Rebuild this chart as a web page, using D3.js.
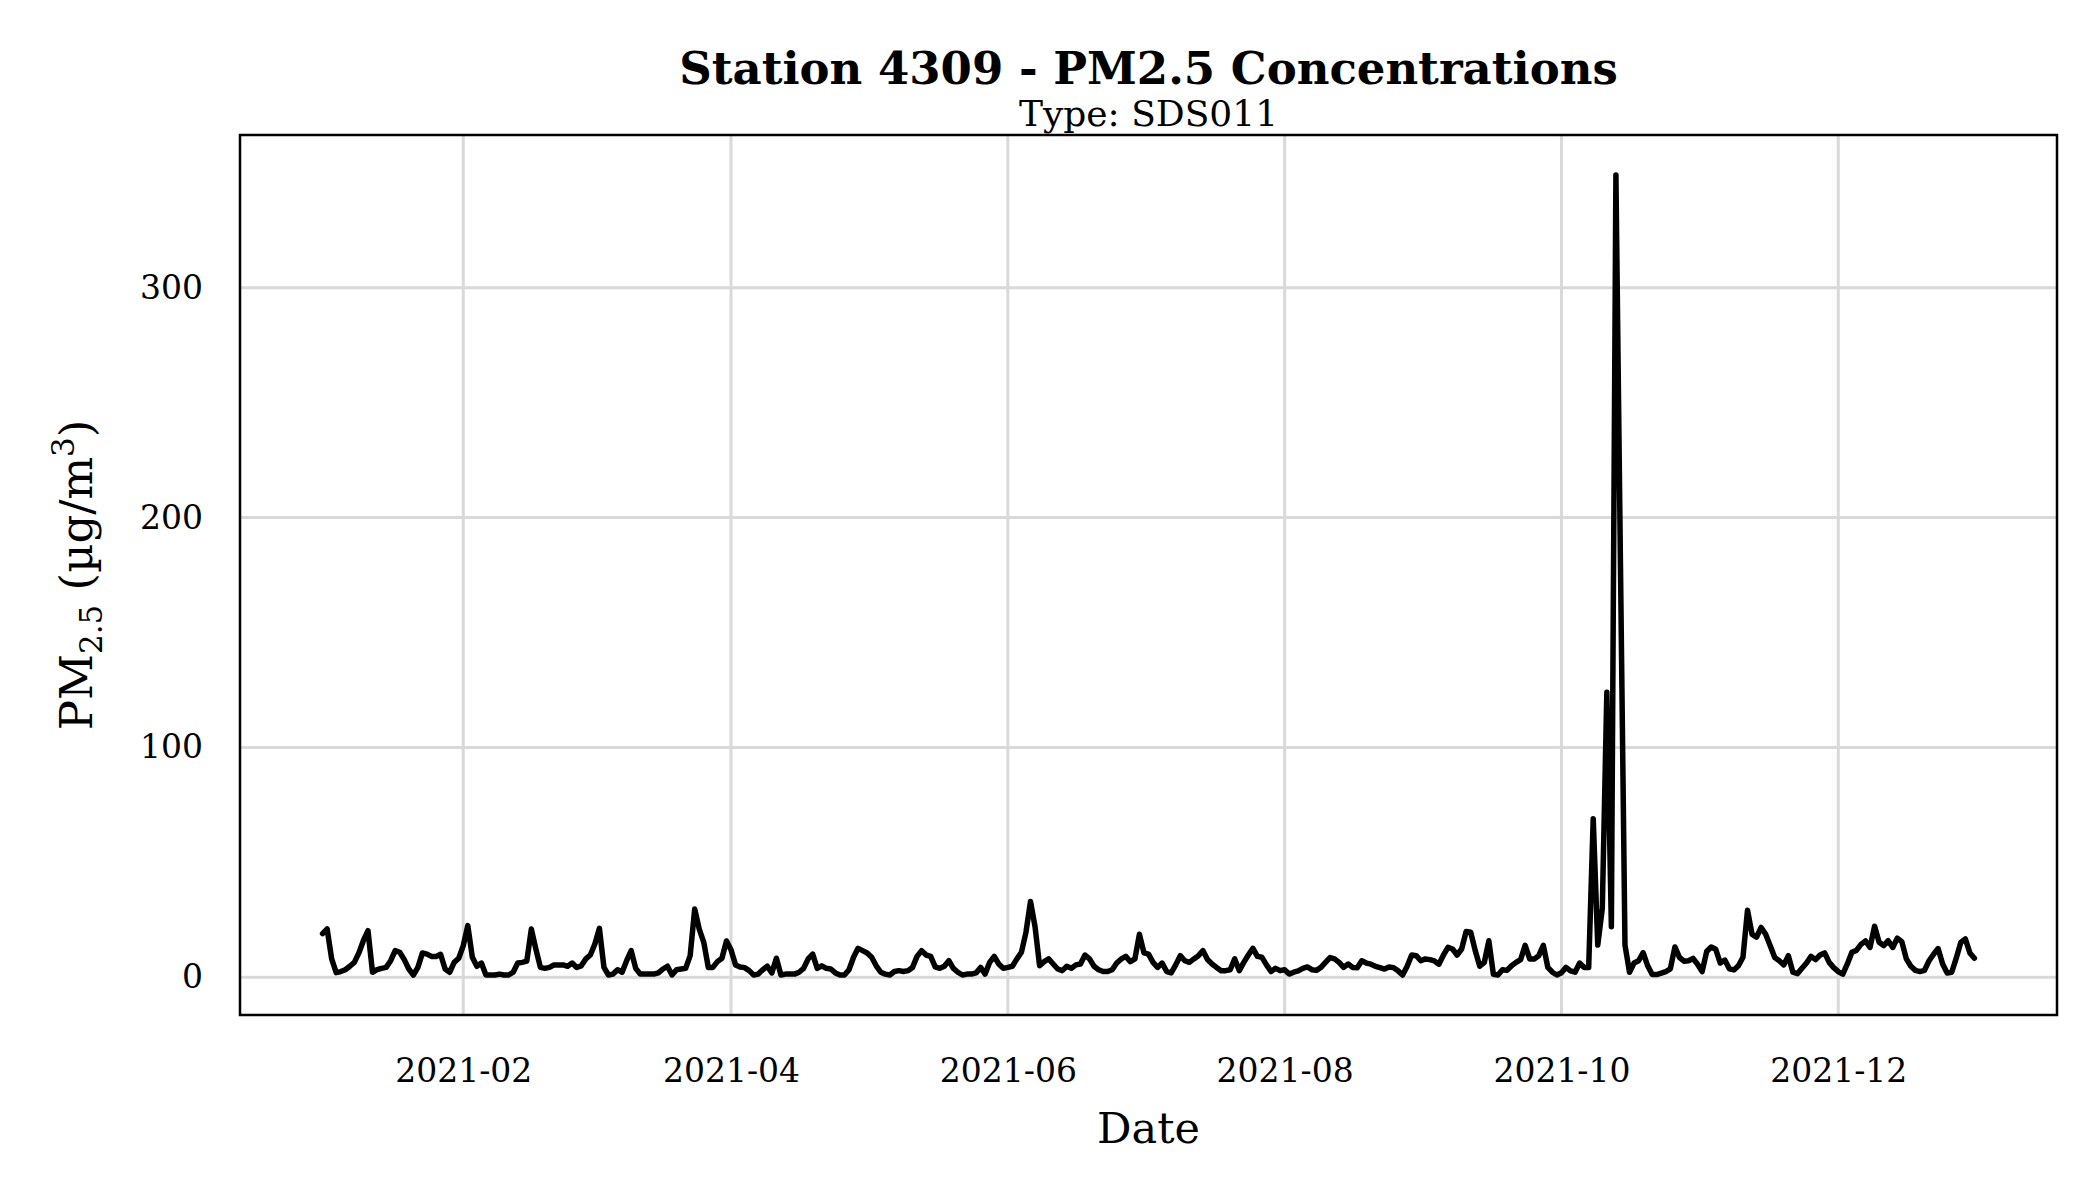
<!DOCTYPE html>
<html><head><meta charset="utf-8">
<script src="https://cdn.jsdelivr.net/npm/d3@7/dist/d3.min.js"></script>
<style>
body{margin:0;background:#fff}
svg{display:block}
text{font-family:"DejaVu Serif","Liberation Serif",serif;fill:#000}
</style>
</head><body>
<svg id="chart" width="2100" height="1200"></svg>
<script>
// ---- data ----
const titleText = "Station 4309 - PM2.5 Concentrations";
const subtitleText = "Type: SDS011";
const xLabel = "Date";
const startDate = "2021-01-01"; // first daily observation
const pm25 = [
 19,21,8,2,2.5,3.3,4.8,6.5,10.6,16,20.3,2.2,3.3,3.9,4.3,7.2,11.6,10.9,7.7,3.6,
 1,4.3,10.6,10.1,9.1,9,10,3.6,2.2,6.5,8.3,13.8,22.5,8.7,4.8,6.2,1,1,1,1.4,
 1,1,2.2,6.2,6.5,7,21,12.3,4.3,3.9,4.3,5.4,5.4,5.4,4.8,6.2,4.3,5,8,9.7,
 14.5,21.3,4.3,1,1.4,3.3,2.2,7.2,11.6,3.9,1.4,1.4,1.4,1.4,1.9,3.6,4.8,1,3.3,3.6,
 3.9,9.4,29.7,21,15.2,4.3,4.3,6.8,8.3,15.8,12,5.4,4.5,4.2,2.9,1,1.4,3.3,4.8,1.9,
 8.3,1,1.4,1.4,1.4,2.2,3.9,8,10.1,3.9,5,3.9,3.6,1.9,1,1,3.3,8.7,12.6,11.6,
 10.6,8.7,5,2.2,1.4,1,2.5,2.9,2.5,2.9,4.3,9.1,11.6,9.7,9.1,4.5,3.9,4.8,7.2,3.9,
 2.2,1,1.4,1.4,1.9,4.3,1.4,6.5,9.1,5.8,3.9,4.3,4.8,8,10.9,19.6,33,22,5,6.8,
 8,5.8,3.6,2.9,4.8,3.9,5.4,5.8,9.7,8,4.8,3.3,2.5,2.5,3.3,6.2,8,9.1,6.8,8,
 18.7,10.6,10.1,6.5,4.3,6.2,2.5,1.9,5.4,9.4,7.2,6.5,8,9.4,11.6,7.7,5.8,4.3,2.9,2.9,
 3.3,8,2.9,6.5,9.7,12.6,9.1,8.7,5.4,2.5,3.9,2.9,3.3,1.4,2.2,2.8,3.9,4.5,3.3,3,
 4.3,6.5,8.6,8,6.5,4.3,5.8,4.3,4.2,7.2,6.2,5.7,4.8,4.2,3.6,4.5,4.2,2.8,1,4.8,
 9.7,9.4,7.2,8,7.7,7.1,5.7,9.7,13,12.3,9.7,12.3,19.9,19.6,11.6,4.8,6.5,15.9,1.3,1,
 3.3,3,5,6.5,7.7,13.9,8,8,9.4,13.9,4.3,2.2,1,2,4.3,2.8,2.2,6.2,4.3,4.3,
 69,14,30,124,22,349,180,14,2.2,6.2,7.2,10.7,5,1.2,1.2,1.8,2.5,3.7,13.2,8.7,
 7,7.2,8.2,5.7,2.5,11.2,13.2,12.2,6.2,7.5,3.7,3.2,5,8.7,29.2,18.7,17.5,21.7,18.7,13.7,
 8.6,7.2,5.4,9.4,2.2,1.6,3.9,6.2,9.1,7.7,9.7,10.6,6.5,4.2,2.5,1.4,5.8,10.9,11.7,14.3,
 15.8,13,22.2,15.2,13.8,15.9,13,17,15.5,8,4.8,3,2.5,3,7.2,10,12.5,5.8,1.9,2.2,
 8.3,15.2,16.7,10.6,8.3
];
const xTickDates = ["2021-02-01","2021-04-01","2021-06-01","2021-08-01","2021-10-01","2021-12-01"];
const xTickLabels = ["2021-02","2021-04","2021-06","2021-08","2021-10","2021-12"];
const yTicks = [0,100,200,300];

// ---- layout ----
const W = 2100, H = 1200;
const panel = {left:240, right:2057, top:135, bottom:1015};

const parse = d3.utcParse("%Y-%m-%d");
const t0 = parse(startDate);
const series = pm25.map((v,i)=>({date:d3.utcDay.offset(t0,i), value:v}));

const xExt = d3.extent(series, d=>d.date);
const xPad = (xExt[1]-xExt[0])*0.05;
const x = d3.scaleUtc()
  .domain([new Date(+xExt[0]-xPad), new Date(+xExt[1]+xPad)])
  .range([panel.left, panel.right]);

const yExt = d3.extent(series, d=>d.value);
const yPad = (yExt[1]-yExt[0])*0.05;
const y = d3.scaleLinear()
  .domain([yExt[0]-yPad, yExt[1]+yPad])
  .range([panel.bottom, panel.top]);

const svg = d3.select("#chart");
svg.append("rect").attr("width",W).attr("height",H).attr("fill","#fff");

// grid
const grid = svg.append("g");
grid.selectAll("line.gx").data(xTickDates).join("line")
  .attr("x1",d=>x(parse(d))).attr("x2",d=>x(parse(d)))
  .attr("y1",panel.top).attr("y2",panel.bottom)
  .attr("stroke","#d9d9d9").attr("stroke-width",3);
grid.selectAll("line.gy").data(yTicks).join("line")
  .attr("x1",panel.left).attr("x2",panel.right)
  .attr("y1",d=>y(d)).attr("y2",d=>y(d))
  .attr("stroke","#d9d9d9").attr("stroke-width",3);

// line
svg.append("path").datum(series)
  .attr("fill","none").attr("stroke","#000").attr("stroke-width",5.5)
  .attr("stroke-linejoin","round").attr("stroke-linecap","round")
  .attr("d", d3.line().x(d=>x(d.date)).y(d=>y(d.value)));

// panel border
svg.append("rect")
  .attr("x",panel.left).attr("y",panel.top)
  .attr("width",panel.right-panel.left).attr("height",panel.bottom-panel.top)
  .attr("fill","none").attr("stroke","#000").attr("stroke-width",2.5);

// axes (labels only, no tick marks)
const xAxis = d3.axisBottom(x)
  .tickValues(xTickDates.map(parse))
  .tickFormat((d,i)=>xTickLabels[i]).tickSize(0).tickPadding(44);
const gx = svg.append("g").attr("transform",`translate(0,${panel.bottom})`).call(xAxis);
gx.select(".domain").remove();
gx.selectAll("text").attr("font-size",33).attr("font-family","DejaVu Serif").attr("fill","#000");

const yAxis = d3.axisLeft(y).tickValues(yTicks).tickSize(0).tickPadding(37);
const gy = svg.append("g").attr("transform",`translate(${panel.left},0)`).call(yAxis);
gy.select(".domain").remove();
gy.selectAll("text").attr("font-size",33).attr("font-family","DejaVu Serif").attr("fill","#000");

// titles
svg.append("text").attr("x",(panel.left+panel.right)/2).attr("y",84)
  .attr("text-anchor","middle").attr("font-size",45).attr("font-weight","bold")
  .text(titleText);
svg.append("text").attr("x",(panel.left+panel.right)/2).attr("y",126)
  .attr("text-anchor","middle").attr("font-size",36)
  .text(subtitleText);
svg.append("text").attr("x",(panel.left+panel.right)/2).attr("y",1143)
  .attr("text-anchor","middle").attr("font-size",43)
  .text(xLabel);

// y label with sub/superscript
const yl = svg.append("text")
  .attr("transform",`translate(92,${(panel.top+panel.bottom)/2}) rotate(-90)`)
  .attr("text-anchor","middle").attr("font-size",45);
yl.append("tspan").text("PM");
yl.append("tspan").attr("font-size",31).attr("dy",10).text("2.5");
yl.append("tspan").attr("dy",-10).text(" (µg/m");
yl.append("tspan").attr("font-size",31).attr("dy",-18).text("3");
yl.append("tspan").attr("dy",18).text(")");
</script>
</body></html>
